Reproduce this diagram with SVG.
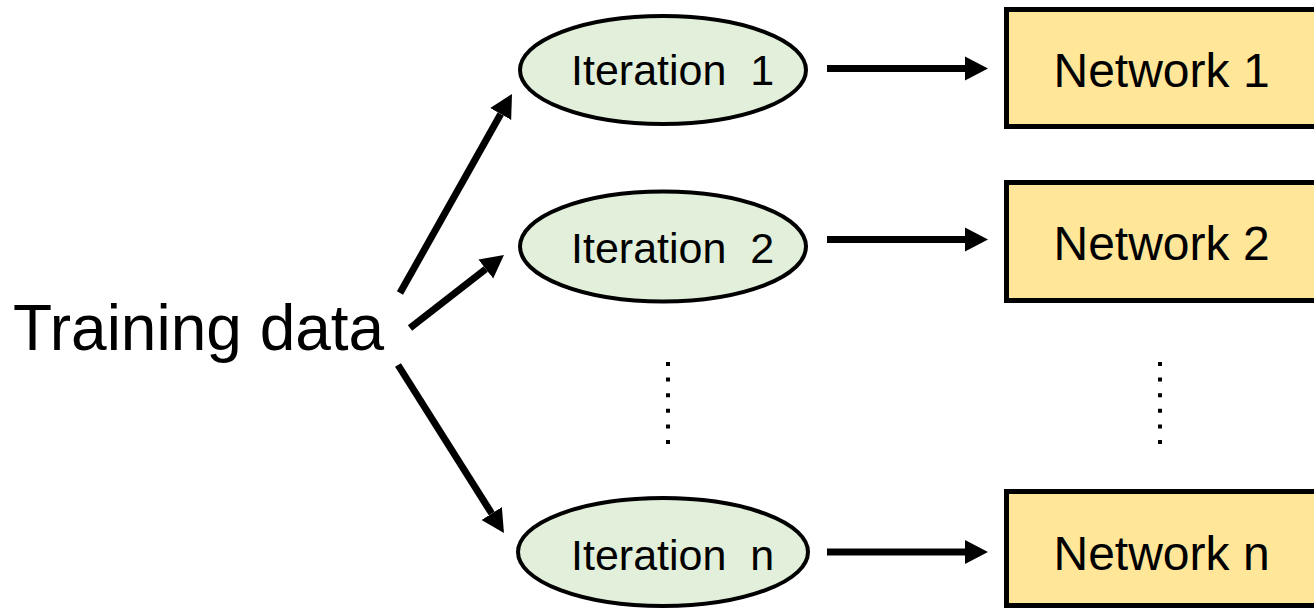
<svg xmlns="http://www.w3.org/2000/svg" width="1314" height="611" viewBox="0 0 1314 611">
<style>
.it{fill:#E2EFDA;stroke:#000;stroke-width:4}
.nw{fill:#FFE699;stroke:#000;stroke-width:5}
.t{font-family:"Liberation Sans",Arial,sans-serif;fill:#000}
.ar{stroke:#000;stroke-width:7;fill:none;marker-end:url(#ah)}
.dot{stroke:#000;stroke-width:4;stroke-dasharray:4 11.6;fill:none}
</style>
<defs>
<marker id="ah" markerUnits="userSpaceOnUse" markerWidth="24" markerHeight="26" refX="0" refY="12" orient="auto" viewBox="0 0 24 24">
<path d="M0,0 L23,12 L0,24 Z" fill="#000"/>
</marker>
</defs>
<rect width="1314" height="611" fill="#fff"/>
<g id="training"><text class="t" x="13" y="350" font-size="64">Training data</text></g>
<g id="iter1"><ellipse class="it" cx="663" cy="70" rx="143" ry="54"/><text class="t" x="571" y="85" font-size="43" xml:space="preserve">Iteration  1</text></g>
<g id="iter2"><ellipse class="it" cx="663" cy="246.5" rx="143" ry="55"/><text class="t" x="571" y="263" font-size="43" xml:space="preserve">Iteration  2</text></g>
<g id="itern"><ellipse class="it" cx="663" cy="552" rx="145" ry="54"/><text class="t" x="571" y="570" font-size="43" xml:space="preserve">Iteration  n</text></g>
<g id="net1"><rect class="nw" x="1006.5" y="9.5" width="320" height="117"/><text class="t" x="1053.5" y="87" font-size="48">Network 1</text></g>
<g id="net2"><rect class="nw" x="1006.5" y="182.5" width="320" height="118"/><text class="t" x="1053.5" y="260" font-size="48">Network 2</text></g>
<g id="netn"><rect class="nw" x="1006.5" y="491.5" width="320" height="114"/><text class="t" x="1053.5" y="570" font-size="48">Network n</text></g>
<g id="connectors">
<line class="ar" x1="400" y1="293" x2="500.7" y2="114"/>
<line class="ar" x1="410" y1="328" x2="485.8" y2="269.1"/>
<line class="ar" x1="398" y1="365" x2="491.7" y2="513.5"/>
<line class="ar" x1="827" y1="68.5" x2="965" y2="68.5"/>
<line class="ar" x1="827" y1="239.5" x2="965" y2="239.5"/>
<line class="ar" x1="827" y1="552" x2="965" y2="552"/>
<line class="dot" x1="668" y1="362" x2="668" y2="444"/>
<line class="dot" x1="1160" y1="362" x2="1160" y2="444"/>
</g>
</svg>
